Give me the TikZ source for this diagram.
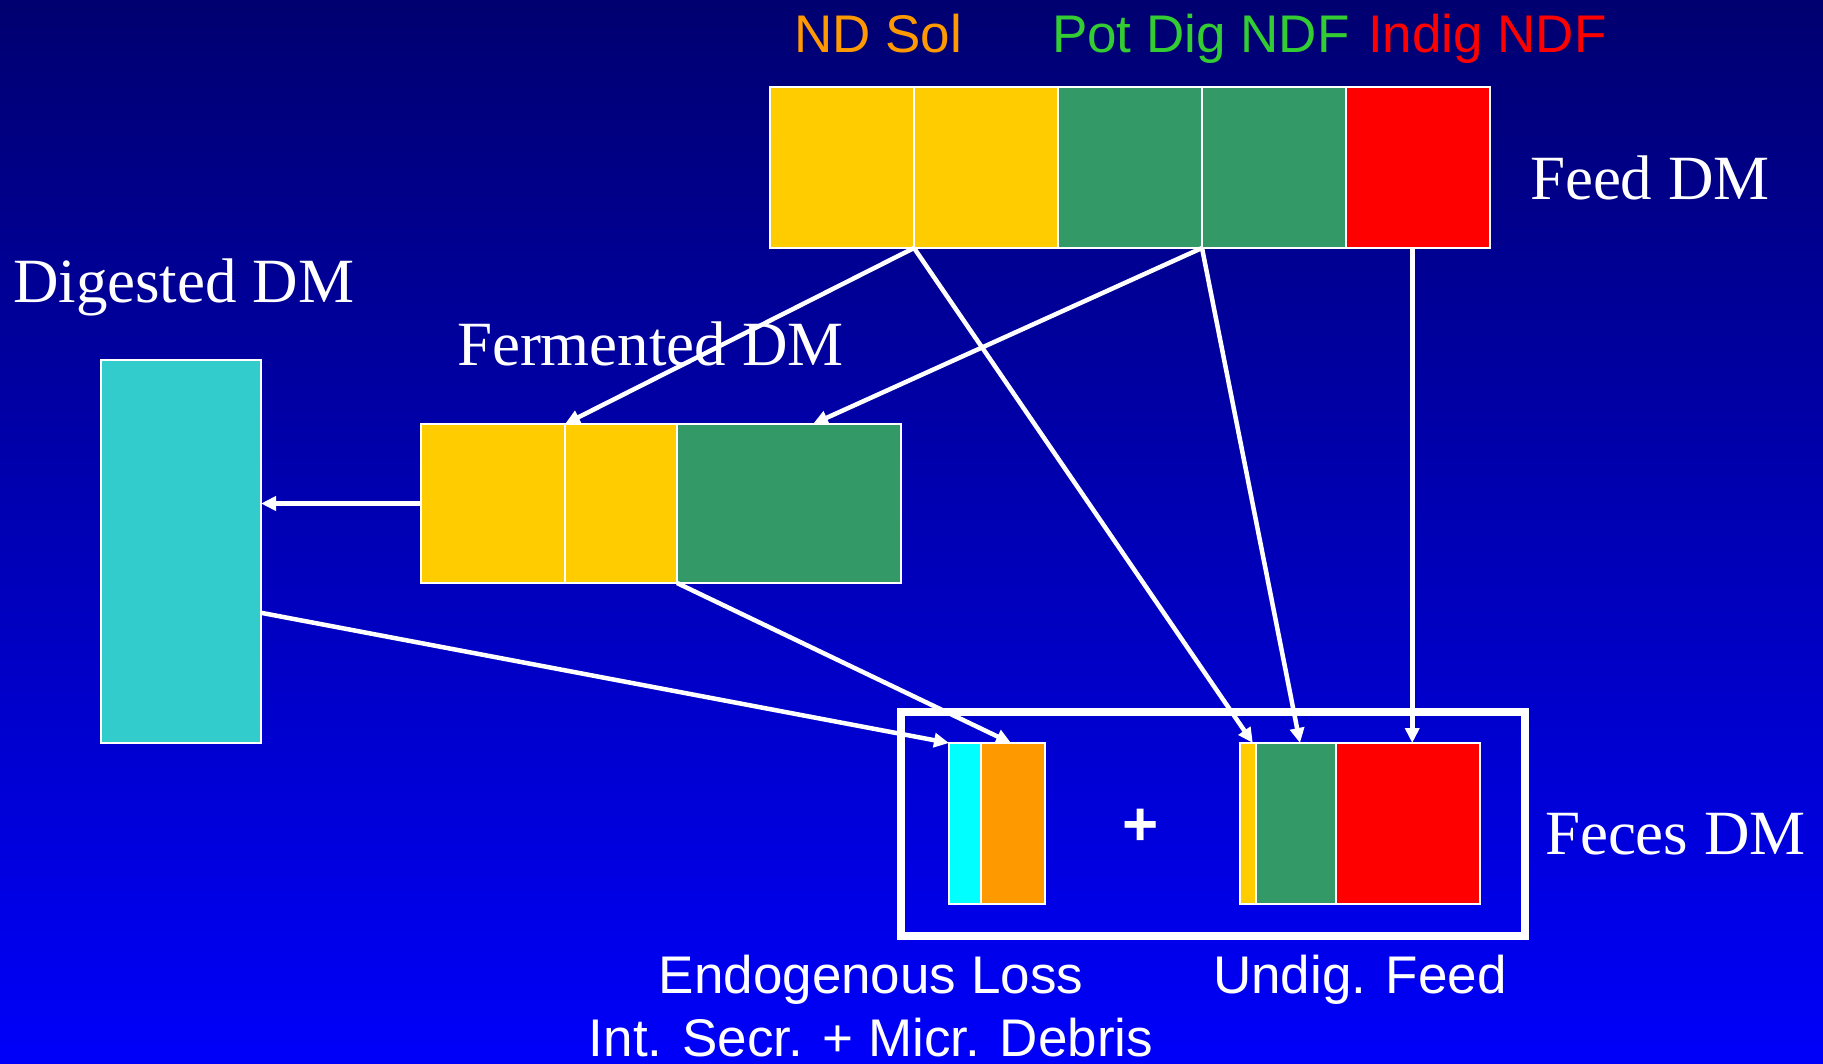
\documentclass[tikz,border=0pt]{standalone}
\usepackage{fontspec}
\setmainfont{Liberation Serif}
\setsansfont{Liberation Sans}
\usetikzlibrary{arrows.meta,calc}
\definecolor{bgtop}{RGB}{0,0,112}
\definecolor{bgbot}{RGB}{0,0,250}
\definecolor{ylw}{HTML}{FFCC00}
\definecolor{grn}{HTML}{339966}
\definecolor{rd}{HTML}{FF0000}
\definecolor{cyn}{HTML}{33CCCC}
\definecolor{aqua}{HTML}{00FFFF}
\definecolor{orng}{HTML}{FF9900}
\definecolor{lblgrn}{HTML}{33CC33}
\newcommand\arialtxt{\sffamily\fontsize{53}{60}\selectfont}
\newcommand\timestxt{\rmfamily\fontsize{63}{70}\selectfont}
\tikzset{
  seg/.style={draw=white, line width=2pt, inner sep=0pt, outer sep=0pt, anchor=north west},
  lbl/.style={inner sep=0pt, outer sep=0pt, anchor=base west, text=white},
  flow/.style={draw=white, line width=4.5pt, -{Triangle[length=15pt,width=14pt]}},
  plainline/.style={draw=white, line width=4.5pt}
}
\begin{document}
\begin{tikzpicture}[x=1pt,y=-1pt]
\shade[top color=bgtop, bottom color=bgbot] (0,0) rectangle (1823,1064);
\useasboundingbox (0,0) rectangle (1823,1064);

% labels
\node[lbl, text=orng, font=\arialtxt] (lnd) at (794,53) {ND Sol};
\node[lbl, text=lblgrn, font=\arialtxt] (lpd) at (1052,53) {Pot Dig NDF};
\node[lbl, text=rd, font=\arialtxt] (lin) at (1368,53) {Indig NDF};
\node[lbl, font=\timestxt] (lfeed) at (1530,200) {Feed DM};
\node[lbl, font=\timestxt] (ldig) at (13,303) {Digested DM};
\node[lbl, font=\timestxt] (lferm) at (457,366) {Fermented DM};
\node[lbl, font=\timestxt] (lfec) at (1545,854) {Feces DM};
\node[lbl, anchor=base, font=\arialtxt] (lendo) at (871,993) {Endogenous Loss};
\node[lbl, anchor=base, font=\arialtxt, text depth=0pt] (lint) at (871,1056) {Int. Secr. + Micr. Debris};
\node[lbl, anchor=base, font=\arialtxt] (lund) at (1360,993) {Undig. Feed};
\node[lbl, anchor=base, font=\sffamily\bfseries\fontsize{62}{70}\selectfont] (plus) at (1141,845) {+};

% feed bar
\node[seg, fill=ylw, minimum width=144, minimum height=161] (feed1) at (770,87) {};
\node[seg, fill=ylw, minimum width=144, minimum height=161] (feed2) at (914,87) {};
\node[seg, fill=grn, minimum width=144, minimum height=161] (feed3) at (1058,87) {};
\node[seg, fill=grn, minimum width=144, minimum height=161] (feed4) at (1202,87) {};
\node[seg, fill=rd, minimum width=144, minimum height=161] (feed5) at (1346,87) {};

% fermented bar
\node[seg, fill=ylw, minimum width=144, minimum height=159] (ferm1) at (421,424) {};
\node[seg, fill=ylw, minimum width=112, minimum height=159] (ferm2) at (565,424) {};
\node[seg, fill=grn, minimum width=224, minimum height=159] (ferm3) at (677,424) {};

% digested
\node[seg, fill=cyn, minimum width=160, minimum height=383] (dig) at (101,360) {};

% feces frame and parts
\node[seg, line width=8pt, minimum width=624, minimum height=224] (frame) at (901,712) {};
\node[seg, fill=aqua, minimum width=32, minimum height=161] (endo1) at (949,743) {};
\node[seg, fill=orng, minimum width=64, minimum height=161] (endo2) at (981,743) {};
\node[seg, fill=ylw, minimum width=16, minimum height=161] (und1) at (1240,743) {};
\node[seg, fill=grn, minimum width=80, minimum height=161] (und2) at (1256,743) {};
\node[seg, fill=rd, minimum width=144, minimum height=161] (und3) at (1336,743) {};

% connectors
\draw[flow] (feed1.south east) -- (ferm1.north east);
\draw[flow] (feed3.south east) -- ($(ferm3.north west)!0.607!(ferm3.north east)$);
\draw[flow] (ferm1.west) -- (dig.east |- ferm1.west);
\draw[flow] ($(dig.north east)!0.66!(dig.south east)$) -- (endo1.north west);
\draw[flow] (ferm2.south east) -- ($(endo2.north west)!0.47!(endo2.north east)$);
\draw[flow] (feed1.south east) -- ($(und1.north west)!0.8!(und1.north east)$);
\draw[flow] (feed3.south east) -- ($(und2.north west)!0.55!(und2.north east)$);
\coordinate (redtop) at ($(feed5.south west)!0.46!(feed5.south east)$);
\draw[flow] (redtop) -- (redtop |- und3.north);
\end{tikzpicture}
\end{document}
